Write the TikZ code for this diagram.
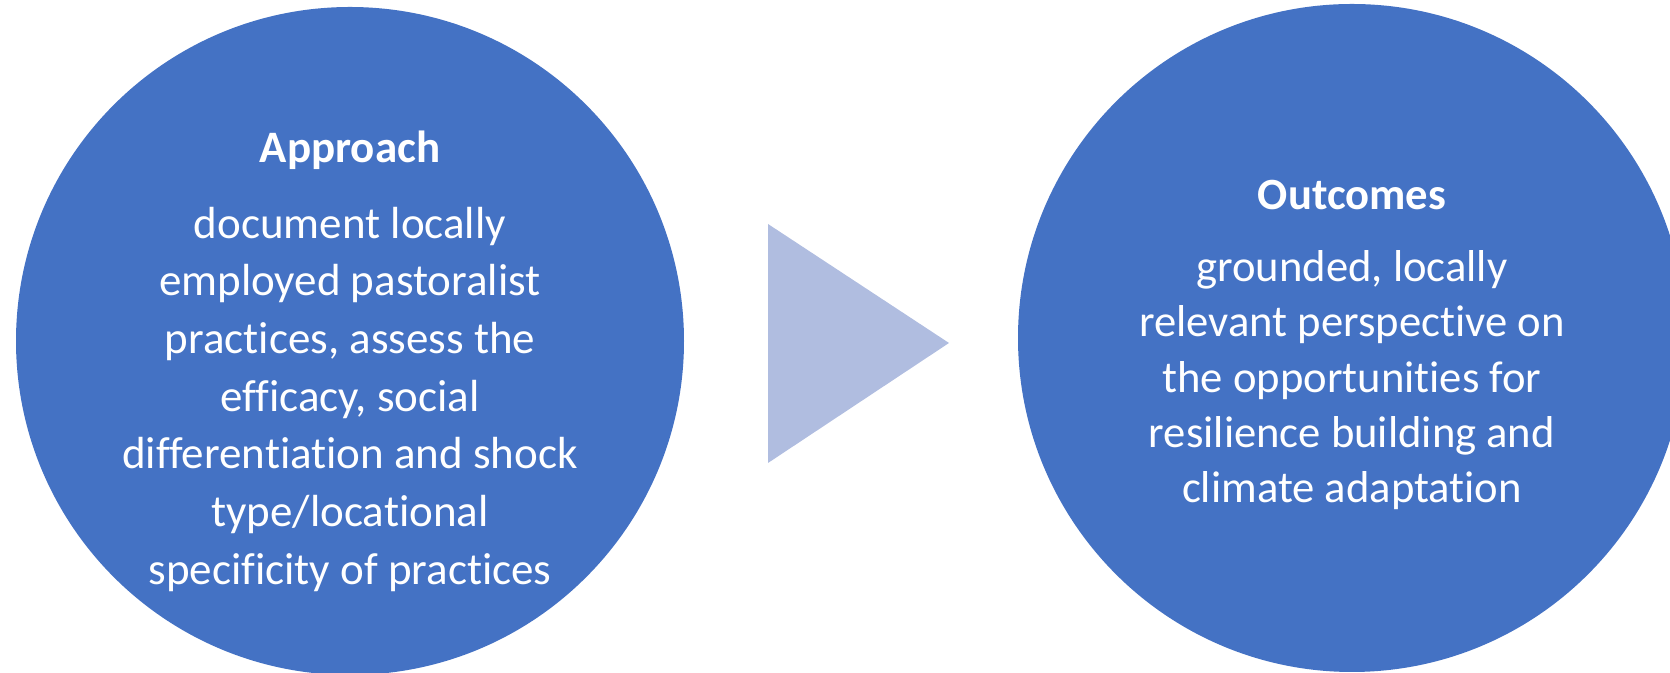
\documentclass[tikz,border=0pt]{standalone}
\usepackage{fontspec}
\setmainfont{Carlito}[Ligatures=NoCommon]
\usetikzlibrary{positioning}
\definecolor{officeblue}{RGB}{68,114,196}
\definecolor{arrowlight}{RGB}{176,189,224}

\begin{document}
\begin{tikzpicture}[
    circ/.style={circle,fill=officeblue,draw=none,minimum size=6.68cm,inner sep=0pt},
    txt/.style={text=white,align=center,inner sep=0pt,font=\fontsize{12.8}{16.4}\selectfont},
    txtr/.style={txt,font=\fontsize{12.7}{15.7}\selectfont},
    arrowtri/.style={fill=arrowlight,draw=none}]
  \useasboundingbox (0,0) rectangle (16.70,6.73);
  % the two circles
  \node[circ] (approach) at (3.50,3.32) {};
  \node[circ] (outcomes) at (13.52,3.35) {};
  % their texts
  \node[txt,yshift=-0.20cm] (approachText) at (approach.center)
    {\textbf{Approach}\\[5.2pt]
     document locally\\
     employed pastoralist\\
     practices, assess the\\
     efficacy, social\\
     differentiation and shock\\
     type/locational\\
     specificity of practices};
  \node[txtr,yshift=-0.07cm] (outcomesText) at (outcomes.center)
    {\textbf{Outcomes}\\[4.8pt]
     grounded, locally\\
     relevant perspective on\\
     the opportunities for\\
     resilience building and\\
     climate adaptation};
  % arrow between them
  \coordinate (triTop) at (7.68,4.49);
  \coordinate (triBot) at (7.68,2.10);
  \coordinate (triTip) at (9.49,3.30);
  \fill[arrowtri] (triTop) -- (triTip) -- (triBot) -- cycle;
\end{tikzpicture}
\end{document}
